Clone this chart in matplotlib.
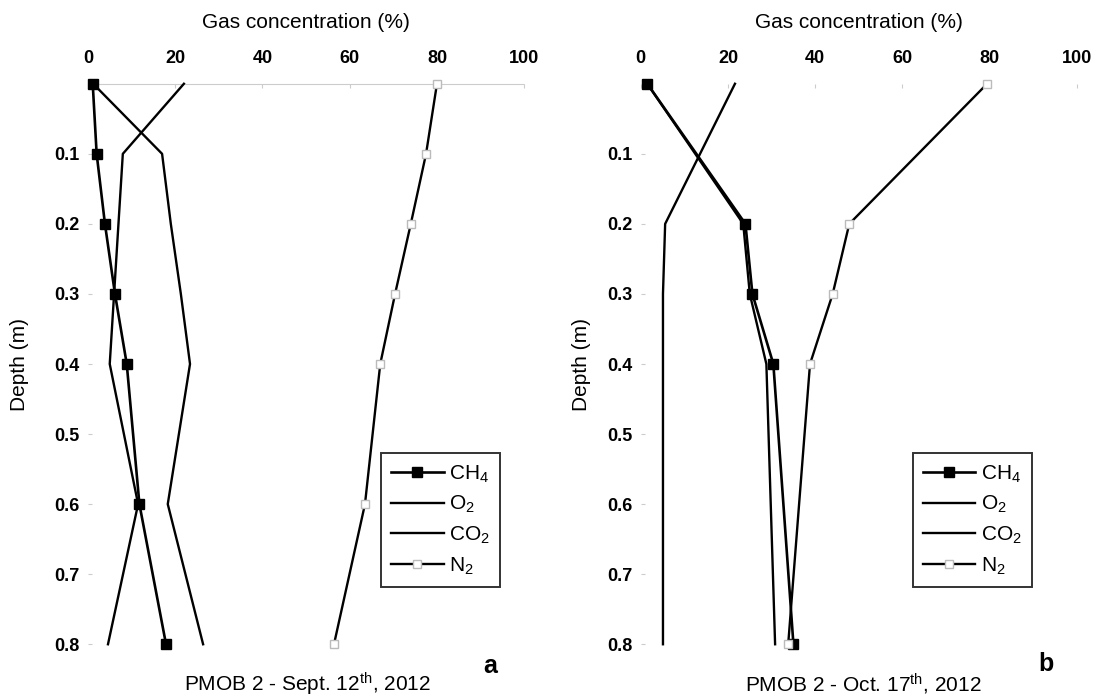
import matplotlib
matplotlib.use("Agg")
import matplotlib.pyplot as plt

plt.rcParams['font.family'] = ['Liberation Sans', 'DejaVu Sans']
plt.rcParams['mathtext.default'] = 'regular'

# Sampling depths (m)
depth_a = [0.0, 0.1, 0.2, 0.3, 0.4, 0.6, 0.8]
depth_b = [0.0, 0.2, 0.3, 0.4, 0.8]

# Panel a: PMOB 2, Sept. 12th 2012 (gas concentration, %)
ch4_a = [1.1, 2.0, 3.9, 6.2, 8.9, 11.8, 17.9]
o2_a = [22.0, 8.0, 7.0, 6.0, 5.0, 11.5, 4.6]
co2_a = [1.2, 17.0, 19.0, 21.3, 23.4, 18.3, 26.4]
n2_a = [80.0, 77.5, 74.0, 70.4, 67.0, 63.5, 56.4]

# Panel b: PMOB 2, Oct. 17th 2012 (gas concentration, %)
ch4_b = [1.5, 24.0, 25.6, 30.4, 35.0]
o2_b = [21.6, 5.6, 5.1, 5.1, 5.1]
co2_b = [1.5, 23.5, 25.0, 28.8, 30.8]
n2_b = [79.4, 47.8, 44.0, 38.8, 33.8]

x_ticks = [0, 20, 40, 60, 80, 100]
y_ticks = [0.1, 0.2, 0.3, 0.4, 0.5, 0.6, 0.7, 0.8]

TICK_FS = 13
TEXT_FS = 15

fig = plt.figure(figsize=(10.99, 6.98), dpi=100)
ax_a = fig.add_axes([0.080, 0.077, 0.397, 0.803])
ax_b = fig.add_axes([0.583, 0.077, 0.397, 0.803])


def draw_panel(ax, d, ch4, o2, co2, n2, ylab_x, legend_anchor, show_top):
    ax.plot(ch4, d, color='black', lw=1.9, marker='s', ms=7,
            mfc='black', mec='black', label='CH$_4$', clip_on=False, zorder=4)
    ax.plot(o2, d, color='black', lw=1.7, label='O$_2$', clip_on=False, zorder=3)
    ax.plot(co2, d, color='black', lw=1.7, label='CO$_2$', clip_on=False, zorder=3)
    ax.plot(n2, d, color='black', lw=1.7, marker='s', ms=6, mfc='white',
            mec='#bbbbbb', mew=1.0, label='N$_2$', clip_on=False, zorder=4)

    ax.set_xlim(0, 100)
    ax.set_ylim(0.8, 0.0)
    ax.xaxis.set_ticks_position('top')
    ax.xaxis.set_label_position('top')
    ax.set_xticks(x_ticks)
    ax.set_xticklabels([str(v) for v in x_ticks], fontsize=TICK_FS,
                       fontweight='bold')
    ax.set_yticks(y_ticks)
    ax.set_yticklabels([f"{v:.1f}" for v in y_ticks], fontsize=TICK_FS,
                       fontweight='bold')
    ax.tick_params(axis='x', length=3, color='#cccccc', direction='in', pad=12)
    ax.tick_params(axis='y', length=3, color='#cccccc', direction='in', pad=6)

    for side in ('left', 'right', 'bottom'):
        ax.spines[side].set_visible(False)
    ax.spines['top'].set_visible(show_top)
    ax.spines['top'].set_color('#cccccc')
    ax.spines['top'].set_linewidth(0.8)
    ax.spines['top'].set_linestyle((0, (2, 1)))

    ax.set_xlabel('Gas concentration (%)', fontsize=TEXT_FS)
    ax.xaxis.label.set_va('center')
    ax.xaxis.set_label_coords(0.5, 1.11)
    ax.set_ylabel('Depth (m)', fontsize=TEXT_FS)
    ax.yaxis.label.set_va('center')
    ax.yaxis.set_label_coords(ylab_x, 0.5)

    leg = ax.legend(loc='lower right', bbox_to_anchor=legend_anchor,
                    bbox_transform=fig.transFigure, fontsize=TEXT_FS,
                    frameon=True, fancybox=False, handlelength=2.5,
                    handletextpad=0.25, labelspacing=0.45, borderpad=0.5,
                    borderaxespad=0)
    leg.get_frame().set_edgecolor('black')
    leg.get_frame().set_linewidth(1.4)


draw_panel(ax_a, depth_a, ch4_a, o2_a, co2_a, n2_a, -0.156, (0.455, 0.159), True)
draw_panel(ax_b, depth_b, ch4_b, o2_b, co2_b, n2_b, -0.135, (0.939, 0.159), False)

fig.text(184 / 1099, 1 - 684 / 698, 'PMOB 2 - Sept. 12$^{th}$, 2012',
         ha='left', va='center', fontsize=TEXT_FS)
fig.text(490 / 1099, 1 - 666 / 698, 'a', ha='center', va='center',
         fontsize=18, fontweight='bold')
fig.text(745 / 1099, 1 - 684 / 698, 'PMOB 2 - Oct. 17$^{th}$, 2012',
         ha='left', va='center', fontsize=TEXT_FS)
fig.text(1046 / 1099, 1 - 664 / 698, 'b', ha='center', va='center',
         fontsize=18, fontweight='bold')

fig.savefig('out.png', dpi=100, facecolor='white')
